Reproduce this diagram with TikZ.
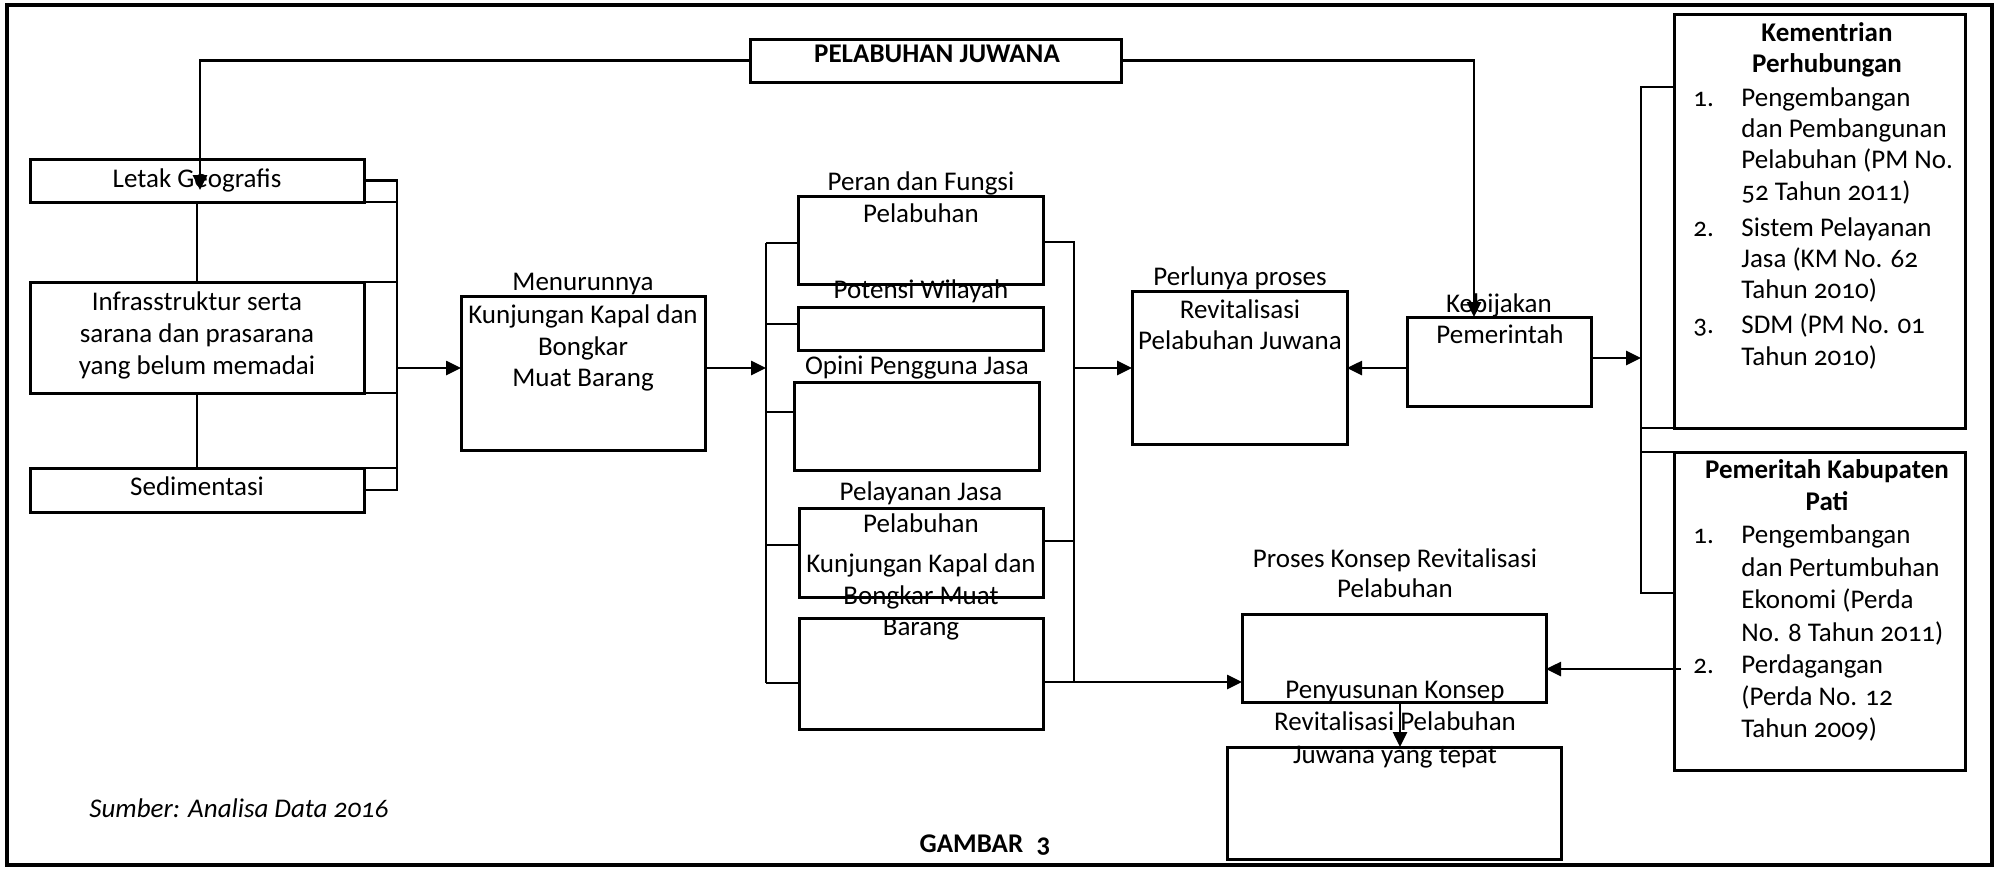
\documentclass[tikz,border=0pt]{standalone}
\usepackage{fontspec}
\setmainfont{Carlito}[Numbers=OldStyle]
\usetikzlibrary{arrows.meta}
\newcommand\drawbox[5]{\node[bx, minimum width={(#4-#2)*0.5pt}, minimum height={(#5-#3)*0.5pt}] (#1) at ({(#2+#4)/2},{(#3+#5)/2}) {};}
\begin{document}
\begin{tikzpicture}[x=0.5pt,y=-0.5pt,
  bx/.style={draw=black, line width=1.5pt, inner sep=0pt, outer sep=0pt},
  txt/.style={inner sep=0pt, anchor=base, font=\fontsize{13.5}{16}\selectfont},
  ln/.style={line width=1.3pt},
  arr/.style={line width=1.3pt, -{Triangle[length=7.5pt,width=7pt]}}]
\useasboundingbox (0,0) rectangle (1998,868);
\draw[line width=1.7pt] (7,5) rectangle (1992,865);

% boxes
\drawbox{pj}{750}{39}{1121}{82}
\drawbox{letak}{30}{159}{364}{202}
\drawbox{infra}{30}{282}{364}{393}
\drawbox{sedim}{30}{468}{364}{512}
\drawbox{menur}{461}{296}{705}{450}
\drawbox{peran}{798}{196}{1043}{284}
\drawbox{potensi}{798}{307}{1043}{350}
\drawbox{opini}{794}{382}{1039}{470}
\drawbox{pelay}{799}{508}{1043}{597}
\drawbox{kunj}{799}{618}{1043}{729}
\drawbox{revit}{1132}{291}{1347}{444}
\drawbox{kebij}{1407}{317}{1591}{406}
\drawbox{kemen}{1674}{14}{1965}{428}
\drawbox{pemkab}{1674}{452}{1965}{770}
\drawbox{proses}{1242}{614}{1546}{702}
\drawbox{penyus}{1227}{747}{1561}{859}

% coordinates
\coordinate (lgtip) at (200,190);
\coordinate (kbtip) at (1474,317);
\coordinate (lb1) at (397,180.5);
\coordinate (lb2) at (397,490);
\coordinate (lbm) at (397,368);
\coordinate (bl1) at (766,243);
\coordinate (bl2) at (766,324);
\coordinate (bl3) at (766,412);
\coordinate (bl4) at (766,545);
\coordinate (bl6) at (766,683);
\coordinate (blm) at (766,368);
\coordinate (br1) at (1074,242);
\coordinate (br4) at (1074,541);
\coordinate (br6) at (1074,682);
\coordinate (brm) at (1074,368);
\coordinate (kbm) at (1407,368);
\coordinate (rb) at (1641,358);
\coordinate (rb1) at (1641,87);
\coordinate (rb2) at (1641,593);
\coordinate (pkm) at (1681,669);
\coordinate (pstop) at (1400,702);
\coordinate (pstip) at (1400,747);

% top connectors
\draw[arr] (pj.west) -| (lgtip);
\draw[arr] (pj.east) -| (kbtip);

% left group
\draw[ln] (letak.south) -- (infra.north);
\draw[ln] (infra.south) -- (sedim.north);
\draw[ln] (letak.east) -- (lb1) -- (lb2) -- (sedim.east);
\draw[ln] (letak.south east) -- (letak.south east -| lb1);
\draw[ln] (infra.north east) -- (infra.north east -| lb1);
\draw[ln] (infra.south east) -- (infra.south east -| lb1);
\draw[ln] (sedim.north east) -- (sedim.north east -| lb1);
\draw[arr] (lbm) -- (lbm -| menur.west);
\draw[arr] (lbm -| menur.east) -- (blm);

% middle brackets
\draw[ln] (bl1) -- (bl6);
\draw[ln] (bl1) -- (bl1 -| peran.west);
\draw[ln] (bl2) -- (bl2 -| potensi.west);
\draw[ln] (bl3) -- (bl3 -| opini.west);
\draw[ln] (bl4) -- (bl4 -| pelay.west);
\draw[ln] (bl6) -- (bl6 -| kunj.west);
\draw[ln] (br1 -| peran.east) -- (br1) -- (br6);
\draw[ln] (br4 -| pelay.east) -- (br4);
\draw[arr] (br6 -| kunj.east) -- (br6 -| proses.west);
\draw[arr] (brm) -- (brm -| revit.west);
\draw[arr] (kbm) -- (kbm -| revit.east);
\draw[arr] (rb -| kebij.east) -- (rb);

% right bracket
\draw[ln] (rb1 -| kemen.west) -- (rb1) -- (rb2) -- (rb2 -| pemkab.west);
\draw[ln] (kemen.south west) -- (kemen.south west -| rb1);
\draw[ln] (pemkab.north west) -- (pemkab.north west -| rb1);
\draw[arr] (pkm) -- (pkm -| proses.east);
\draw[arr] (pstop) -- (pstip);

% texts
\node[txt] (pjt) at (937,62) {\bfseries PELABUHAN JUWANA};
\node[txt] (lgt) at (197,187) {Letak Geografis};
\node[txt] (in1) at (197,310) {Infrasstruktur serta};
\node[txt] (in2) at (197,342) {sarana dan prasarana};
\node[txt] (in3) at (197,374) {yang belum memadai};
\node[txt] (sdt) at (197,495) {Sedimentasi};
\node[txt] (mn1) at (583,290) {Menurunnya};
\node[txt] (mn2) at (583,323) {Kunjungan Kapal dan};
\node[txt] (mn3) at (583,355) {Bongkar};
\node[txt] (mn4) at (583,386) {Muat Barang};
\node[txt] (pr1) at (921,190) {Peran dan Fungsi};
\node[txt] (pr2) at (921,222) {Pelabuhan};
\node[txt] (pot) at (921,298) {Potensi Wilayah};
\node[txt] (opt) at (917,374) {Opini Pengguna Jasa};
\node[txt] (pl1) at (921,500) {Pelayanan Jasa};
\node[txt] (pl2) at (921,532) {Pelabuhan};
\node[txt] (kj1) at (921,572) {Kunjungan Kapal dan};
\node[txt] (kj2) at (921,604) {Bongkar Muat};
\node[txt] (kj3) at (921,635) {Barang};
\node[txt] (rv1) at (1240,285) {Perlunya proses};
\node[txt] (rv2) at (1240,318) {Revitalisasi};
\node[txt] (rv3) at (1240,349) {Pelabuhan Juwana};
\node[txt] (kb1) at (1499,312) {Kebijakan};
\node[txt] (kb2) at (1500,343) {Pemerintah};
\node[txt] (km0) at (1827,41) {\bfseries Kementrian};
\node[txt] (km00) at (1827,72) {\bfseries Perhubungan};
\node[txt,anchor=base west] (kn1) at (1693,106) {1.};
\node[txt,anchor=base west] (kn2) at (1693,236) {2.};
\node[txt,anchor=base west] (kn3) at (1693,333) {3.};
\foreach \n/\yy/\t in {a/106/{Pengembangan}, b/137/{dan Pembangunan}, c/168/{Pelabuhan (PM No.}, d/200/{52 Tahun 2011)}, e/236/{Sistem Pelayanan}, f/267/{Jasa (KM No. 62}, g/298/{Tahun 2010)}, h/333/{SDM (PM No. 01}, i/365/{Tahun 2010)}}
  \node[txt,anchor=base west] (km\n) at (1741,\yy) {\t};
\node[txt] (pk0) at (1827,478) {\bfseries Pemeritah Kabupaten};
\node[txt] (pk00) at (1827,510) {\bfseries Pati};
\node[txt,anchor=base west] (pn1) at (1693,543) {1.};
\node[txt,anchor=base west] (pn2) at (1693,673) {2.};
\foreach \n/\yy/\t in {a/543/{Pengembangan}, b/576/{dan Pertumbuhan}, c/608/{Ekonomi (Perda}, d/641/{No. 8 Tahun 2011)}, e/673/{Perdagangan}, f/705/{(Perda No. 12}, g/737/{Tahun 2009)}}
  \node[txt,anchor=base west] (pk\n) at (1741,\yy) {\t};
\node[txt] (ps1) at (1395,567) {Proses Konsep Revitalisasi};
\node[txt] (ps2) at (1395,597) {Pelabuhan};
\node[txt] (py1) at (1395,698) {Penyusunan Konsep};
\node[txt] (py2) at (1395,730) {Revitalisasi Pelabuhan};
\node[txt] (py3) at (1395,763) {Juwana yang tepat};
\node[txt] (gmb) at (985,852) {\bfseries GAMBAR\hspace{0.5em}3};
\node[txt,anchor=base west] (smb) at (89,817) {\itshape Sumber: Analisa Data 2016};
\end{tikzpicture}
\end{document}
